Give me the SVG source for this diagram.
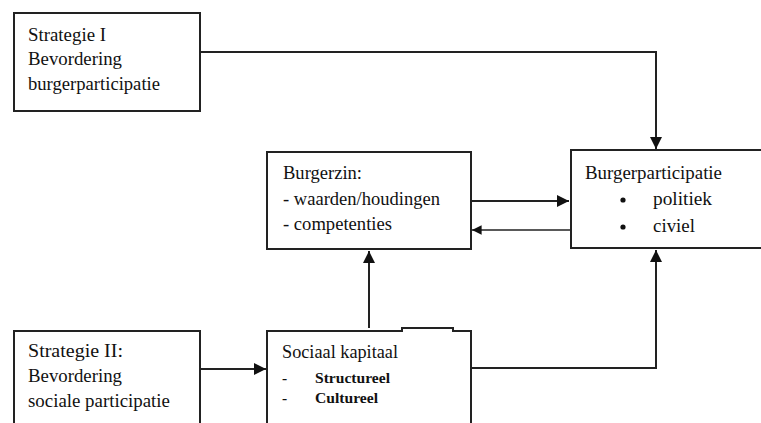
<svg xmlns="http://www.w3.org/2000/svg" width="761" height="423" viewBox="0 0 761 423">
<style>
.box{fill:#fff;stroke:#222;stroke-width:2}
.t{font-size:19px;fill:#111}
.s{font-size:15.5px;font-weight:bold;fill:#111}
.c{fill:none;stroke:#222;stroke-width:2}
</style>
<defs>
<marker id="ah" viewBox="0 0 10 10" refX="10" refY="5" markerWidth="6" markerHeight="6" markerUnits="strokeWidth" orient="auto">
<path d="M0,0 L10,5 L0,10 z" fill="#111"/>
</marker>
</defs>
<rect width="761" height="423" fill="#fff"/>
<g id="connectors">
<path class="c" d="M200,52 H656 V149" marker-end="url(#ah)"/>
<path class="c" d="M471,201 H569" marker-end="url(#ah)"/>
<path class="c" d="M571,230 H472" style="stroke-width:1.6" marker-end="url(#ah)"/>
<path class="c" d="M369,328 V251" marker-end="url(#ah)"/>
<path class="c" d="M200,369 H266" marker-end="url(#ah)"/>
<path class="c" d="M471,368 H656 V250" marker-end="url(#ah)"/>
</g>
<g font-family="Liberation Serif, Times New Roman, DejaVu Serif, serif">
<g id="strategie1">
<rect class="box" x="14" y="13" width="186" height="98"/>
<text class="t" x="28" y="41" textLength="78" lengthAdjust="spacingAndGlyphs">Strategie I</text>
<text class="t" x="28" y="65" textLength="94" lengthAdjust="spacingAndGlyphs">Bevordering</text>
<text class="t" x="28" y="90" textLength="132" lengthAdjust="spacingAndGlyphs">burgerparticipatie</text>
</g>
<g id="burgerzin">
<rect class="box" x="267" y="152" width="204" height="97"/>
<text class="t" x="283" y="179" textLength="79" lengthAdjust="spacingAndGlyphs">Burgerzin:</text>
<text class="t" x="283" y="205" textLength="157" lengthAdjust="spacingAndGlyphs">- waarden/houdingen</text>
<text class="t" x="283" y="230" textLength="109" lengthAdjust="spacingAndGlyphs">- competenties</text>
</g>
<g id="burgerparticipatie">
<rect class="box" x="571" y="150" width="200" height="98"/>
<text class="t" x="585" y="179" textLength="137" lengthAdjust="spacingAndGlyphs">Burgerparticipatie</text>
<circle cx="623" cy="200" r="2.6" fill="#111"/>
<text class="t" x="653" y="205" textLength="59" lengthAdjust="spacingAndGlyphs">politiek</text>
<circle cx="623" cy="227" r="2.6" fill="#111"/>
<text class="t" x="653" y="232" textLength="42" lengthAdjust="spacingAndGlyphs">civiel</text>
</g>
<g id="strategie2">
<rect class="box" x="14" y="331" width="186" height="100"/>
<text class="t" x="28" y="357" textLength="95" lengthAdjust="spacingAndGlyphs">Strategie II:</text>
<text class="t" x="28" y="382" textLength="94" lengthAdjust="spacingAndGlyphs">Bevordering</text>
<text class="t" x="28" y="407" textLength="142" lengthAdjust="spacingAndGlyphs">sociale participatie</text>
</g>
<g id="sociaalkapitaal">
<path class="box" d="M267,431 V331 H402 V328 H453 V331 H471 V431"/>
<text class="t" x="282" y="358" textLength="116" lengthAdjust="spacingAndGlyphs">Sociaal kapitaal</text>
<text class="s" x="282" y="383">-</text>
<text class="s" x="315" y="383" textLength="75" lengthAdjust="spacingAndGlyphs">Structureel</text>
<text class="s" x="282" y="403">-</text>
<text class="s" x="315" y="403" textLength="63" lengthAdjust="spacingAndGlyphs">Cultureel</text>
</g>
</g>
</svg>
